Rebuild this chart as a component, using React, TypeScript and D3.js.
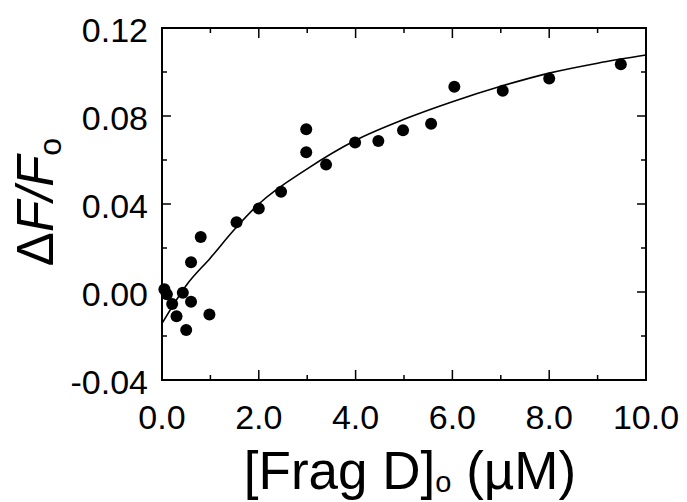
import React, { useRef, useEffect } from "react";
import * as d3 from "d3";

// measured points: [Frag D]o (uM) vs dF/Fo
const concVals = [0.05, 0.1, 0.21, 0.3, 0.43, 0.5, 0.6, 0.6, 0.8, 0.98, 1.54, 2.0, 2.46, 2.98, 2.98, 3.39, 3.99, 4.47, 4.98, 5.56, 6.04, 7.04, 8.0, 9.48];
const dfVals = [0.0012, -0.001, -0.0055, -0.011, -0.0003, -0.0173, -0.0044, 0.0135, 0.025, -0.0102, 0.0317, 0.038, 0.0456, 0.074, 0.0635, 0.0579, 0.068, 0.0686, 0.0735, 0.0765, 0.0933, 0.0915, 0.097, 0.1035];

// fitted curve
const fitX = [0, 0.5, 1, 1.5, 2, 3, 4, 5, 6, 7, 8, 9, 10];
const fitY = [-0.0143, 0.003, 0.0155, 0.0285, 0.04, 0.056, 0.069, 0.0785, 0.0865, 0.0935, 0.0995, 0.104, 0.1077];

const xMajor = [0, 2, 4, 6, 8, 10];
const xMinor = [1, 3, 5, 7, 9];
const yMajor = [-0.04, 0, 0.04, 0.08, 0.12];
const yMinor = [-0.02, 0.02, 0.06, 0.1];

const FONT = "'Liberation Sans', Arial, sans-serif";

const Chart = () => {
    const svgRef = useRef(null);

    useEffect(() => {
        const svg = d3.select(svgRef.current);
        svg.selectAll("*").remove();

        const width = 687;
        const height = 502;
        const left = 162, right = 646, top = 28, bottom = 380;

        const x = d3.scaleLinear().domain([0, 10]).range([left, right]);
        const y = d3.scaleLinear().domain([-0.04, 0.12]).range([bottom, top]);

        svg.attr("width", width).attr("height", height);

        // frame
        svg.append("rect")
            .attr("x", left)
            .attr("y", top)
            .attr("width", right - left)
            .attr("height", bottom - top)
            .attr("fill", "none")
            .attr("stroke", "#000")
            .attr("stroke-width", 2);

        const ticks = svg.append("g").attr("stroke", "#000").attr("stroke-width", 1.5);

        // x ticks, bottom and top, pointing inward
        [...xMajor.map(v => [v, 10]), ...xMinor.map(v => [v, 5])].forEach(([v, len]) => {
            ticks.append("line").attr("x1", x(v)).attr("x2", x(v)).attr("y1", bottom).attr("y2", bottom - len);
            ticks.append("line").attr("x1", x(v)).attr("x2", x(v)).attr("y1", top).attr("y2", top + len);
        });

        // y ticks, left and right
        [...yMajor.map(v => [v, 9]), ...yMinor.map(v => [v, 5])].forEach(([v, len]) => {
            ticks.append("line").attr("x1", left).attr("x2", left + len).attr("y1", y(v)).attr("y2", y(v));
            ticks.append("line").attr("x1", right).attr("x2", right - len).attr("y1", y(v)).attr("y2", y(v));
        });

        // tick labels
        svg.append("g")
            .selectAll("text")
            .data(xMajor)
            .enter()
            .append("text")
            .attr("x", d => x(d))
            .attr("y", 429)
            .attr("text-anchor", "middle")
            .attr("font-family", FONT)
            .attr("font-size", 34)
            .text(d => d.toFixed(1));

        svg.append("g")
            .selectAll("text")
            .data(yMajor)
            .enter()
            .append("text")
            .attr("x", 148)
            .attr("y", d => y(d))
            .attr("dy", "0.42em")
            .attr("text-anchor", "end")
            .attr("font-family", FONT)
            .attr("font-size", 34)
            .text(d => d.toFixed(2));

        // fit line
        const line = d3.line()
            .x(d => x(d[0]))
            .y(d => y(d[1]))
            .curve(d3.curveMonotoneX);

        svg.append("path")
            .datum(fitX.map((v, i) => [v, fitY[i]]))
            .attr("d", line)
            .attr("fill", "none")
            .attr("stroke", "#000")
            .attr("stroke-width", 1.6);

        // data points
        svg.append("g")
            .selectAll("circle")
            .data(concVals.map((v, i) => [v, dfVals[i]]))
            .enter()
            .append("circle")
            .attr("cx", d => x(d[0]))
            .attr("cy", d => y(d[1]))
            .attr("r", 6)
            .attr("fill", "#000");

        // x axis title
        const xt = svg.append("text")
            .attr("x", 410)
            .attr("y", 489)
            .attr("text-anchor", "middle")
            .attr("font-family", FONT)
            .attr("font-size", 53);
        xt.append("tspan").text("[Frag D]");
        xt.append("tspan").attr("font-size", 29).attr("dy", 3).text("o");
        xt.append("tspan").attr("dy", -3).text(" (\u00B5M)");

        // y axis title
        const yt = svg.append("text")
            .attr("transform", `translate(53, 202) rotate(-90)`)
            .attr("text-anchor", "middle")
            .attr("font-family", FONT)
            .attr("font-size", 51);
        yt.append("tspan").text("\u0394");
        yt.append("tspan").attr("font-style", "italic").text("F/F");
        yt.append("tspan").attr("font-size", 32).attr("dy", 8).text("o");
    }, []);

    return <svg ref={svgRef}></svg>;
};

export default function App() {
    return (
        <div style={{ position: "absolute", left: 0, top: 0 }}>
            <Chart />
        </div>
    );
}
